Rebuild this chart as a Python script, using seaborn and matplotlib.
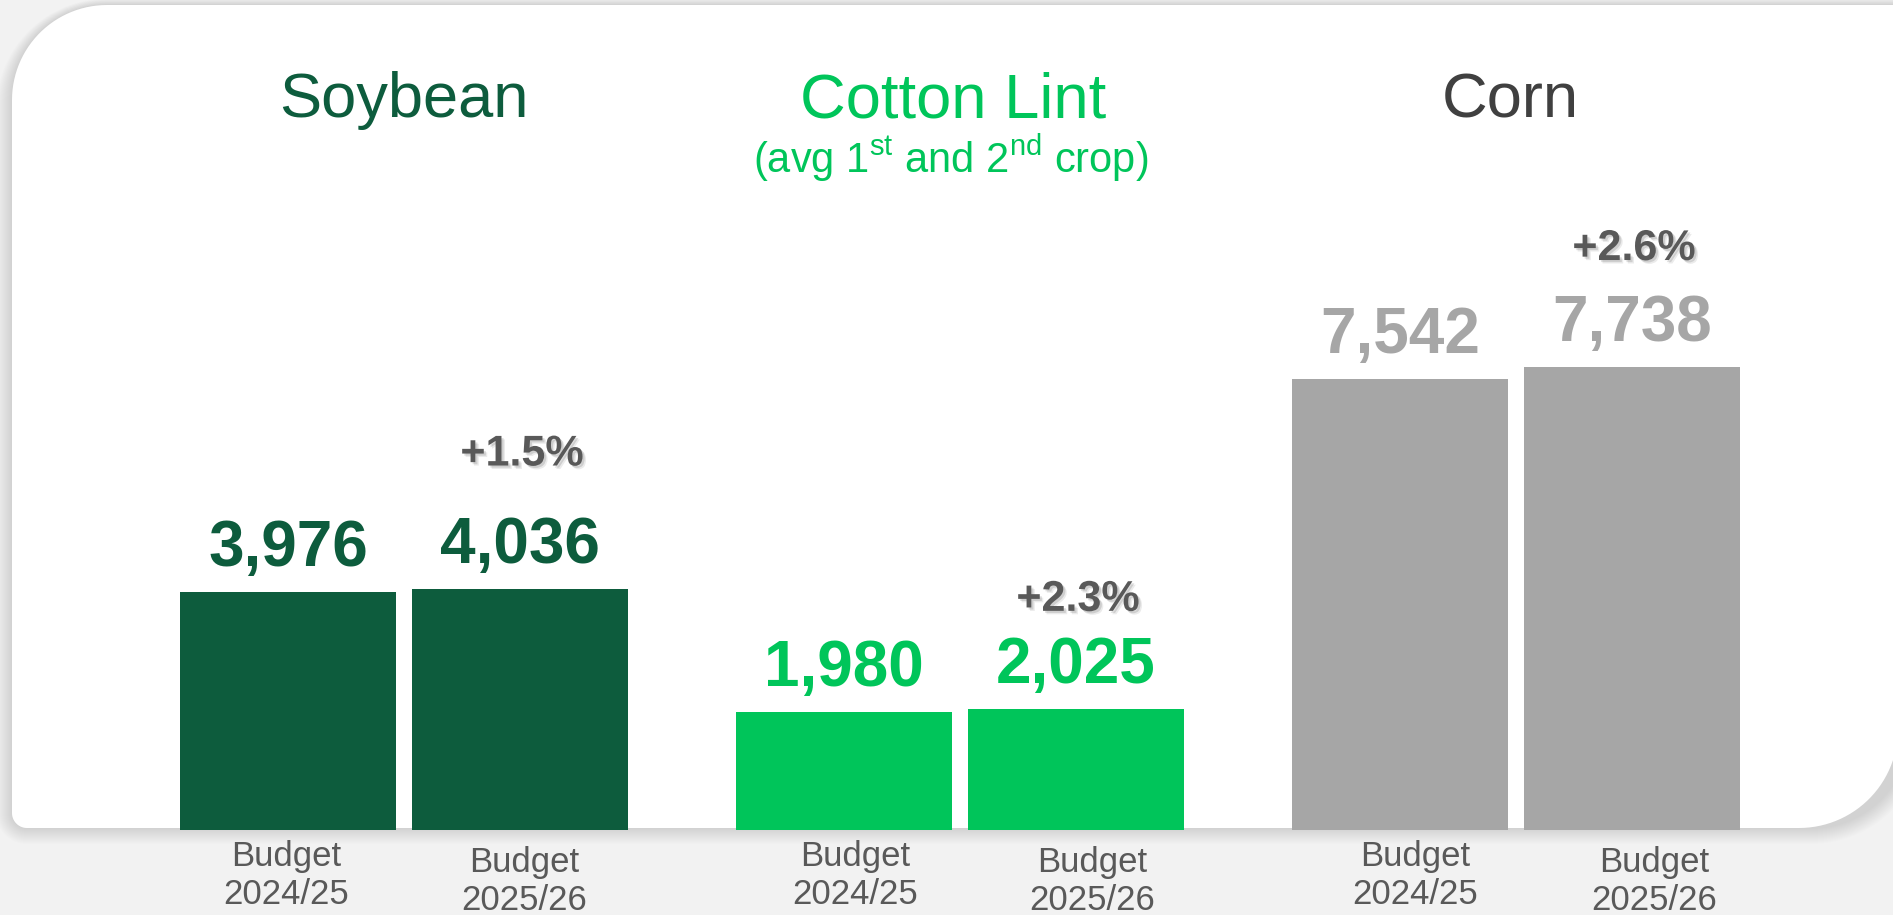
import numpy as np
import pandas as pd
import matplotlib
matplotlib.use("Agg")
import matplotlib.pyplot as plt
import matplotlib.patheffects as pe
from matplotlib.patches import Polygon
import seaborn as sns

# chart values
crops = ["Soybean", "Cotton Lint", "Corn"]
seasons = ["Budget\n2024/25", "Budget\n2025/26"]
budget_2024_25 = [3976, 1980, 7542]
budget_2025_26 = [4036, 2025, 7738]
changes = ["+1.5%", "+2.3%", "+2.6%"]
subtitle = r"(avg 1$^{\mathrm{st}}$ and 2$^{\mathrm{nd}}$ crop)"

# style
W, H = 1893, 915
BASE_PX = 830
PX_PER_UNIT = 0.05983
CAT_PX = 556
FIRST_CENTER = 404
bar_colors = ["#0d5c3d", "#00c55a", "#a6a6a6"]
title_colors = ["#0d5c3d", "#00c55a", "#404040"]
title_dx = [0, -0.013, -0.01]
pct_offsets = [123, 98, 107]          # px above the 2025/26 bar
label_dx = [[-2, 4], [11, 16], [15, 22]]
label_dy = [10, 16]

sns.set_style("white")
plt.rcParams['font.family'] = ['Liberation Sans', 'DejaVu Sans']
plt.rcParams['mathtext.fontset'] = 'custom'
plt.rcParams['mathtext.rm'] = 'Liberation Sans'
plt.rcParams['mathtext.it'] = 'Liberation Sans:italic'
plt.rcParams['mathtext.bf'] = 'Liberation Sans:bold'

df = pd.DataFrame({
    "crop": crops * 2,
    "season": [seasons[0]] * 3 + [seasons[1]] * 3,
    "value": budget_2024_25 + budget_2025_26,
})


def panel_shape(x0, y0, x1, y1, r_tl, r_tr, r_br, r_bl):
    pts = []
    corners = [((x0 + r_tl, y0 + r_tl), r_tl, 180, 270),
               ((x1 - r_tr, y0 + r_tr), r_tr, 270, 360),
               ((x1 - r_br, y1 - r_br), r_br, 0, 90),
               ((x0 + r_bl, y1 - r_bl), r_bl, 90, 180)]
    for (cx, cy), r, a0, a1 in corners:
        t = np.radians(np.linspace(a0, a1, 30))
        pts += list(zip(cx + r * np.cos(t), cy + r * np.sin(t)))
    return np.array(pts)


fig = plt.figure(figsize=(W / 100, H / 100), dpi=100)
fig.patch.set_facecolor('#f2f2f2')

# background card with soft shadow
ax_bg = fig.add_axes([0, 0, 1, 1])
ax_bg.set_xlim(0, W)
ax_bg.set_ylim(H, 0)
ax_bg.axis('off')
for k in range(16, 0, -1):
    ax_bg.add_patch(Polygon(panel_shape(12 - k, 5 - k * 0.4, 1910 + k, 828 + k,
                                        95 + k, 5 + k, 99 + k, 15 + k),
                            closed=True, facecolor='black', edgecolor='none',
                            alpha=0.006))
ax_bg.add_patch(Polygon(panel_shape(12, 5, 1898, 828, 95, 5, 99, 15),
                        closed=True, facecolor='white', edgecolor='none'))

# bars
ax = fig.add_axes([0, (H - BASE_PX) / H, 1, BASE_PX / H])
ax.set_facecolor('none')
sns.barplot(data=df, x="crop", y="value", hue="season", order=crops,
            hue_order=seasons, width=0.8345, gap=0.069, errorbar=None,
            saturation=1, legend=False, ax=ax)

shadow = [pe.SimplePatchShadow(offset=(2.5, -2.5), shadow_rgbFace='black', alpha=0.08),
          pe.SimplePatchShadow(offset=(1.5, -1.5), shadow_rgbFace='black', alpha=0.12),
          pe.Normal()]

for j, container in enumerate(ax.containers):
    for i, bar in enumerate(container):
        bar.set_facecolor(bar_colors[i])
        bar.set_edgecolor('none')
        cx = bar.get_x() + bar.get_width() / 2
        val = bar.get_height()
        ax.annotate(f"{val:,.0f}", xy=(cx, val), xytext=(0, 26),
                    textcoords='offset pixels', ha='center', va='baseline',
                    fontsize=46, fontweight='bold', color=bar_colors[i],
                    annotation_clip=False)
        ax.annotate(seasons[j], xy=(cx, 0),
                    xytext=(label_dx[i][j], -label_dy[j]),
                    textcoords='offset pixels', ha='center', va='top',
                    fontsize=25, color='#595959', linespacing=1.2,
                    annotation_clip=False)
        if j == 1:
            ax.annotate(changes[i], xy=(cx, val), xytext=(2, pct_offsets[i]),
                        textcoords='offset pixels', ha='center', va='baseline',
                        fontsize=31, fontweight='bold', color='#595959',
                        annotation_clip=False, path_effects=shadow)

tr = ax.get_xaxis_transform()
for i, crop in enumerate(crops):
    ax.text(i + title_dx[i], (BASE_PX - 117) / BASE_PX, crop, transform=tr,
            ha='center', va='baseline', fontsize=45.5, color=title_colors[i])
ax.text(1 - 0.017, (BASE_PX - 173) / BASE_PX, subtitle, transform=tr,
        ha='center', va='baseline', fontsize=30, color=title_colors[1])

ax.set_xlim(-FIRST_CENTER / CAT_PX, (W - FIRST_CENTER) / CAT_PX)
ax.set_ylim(0, BASE_PX / PX_PER_UNIT)
ax.set_xticks([])
ax.set_yticks([])
ax.set_xlabel("")
ax.set_ylabel("")
sns.despine(ax=ax, left=True, bottom=True)

plt.savefig("out.png", dpi=100, facecolor=fig.get_facecolor())
